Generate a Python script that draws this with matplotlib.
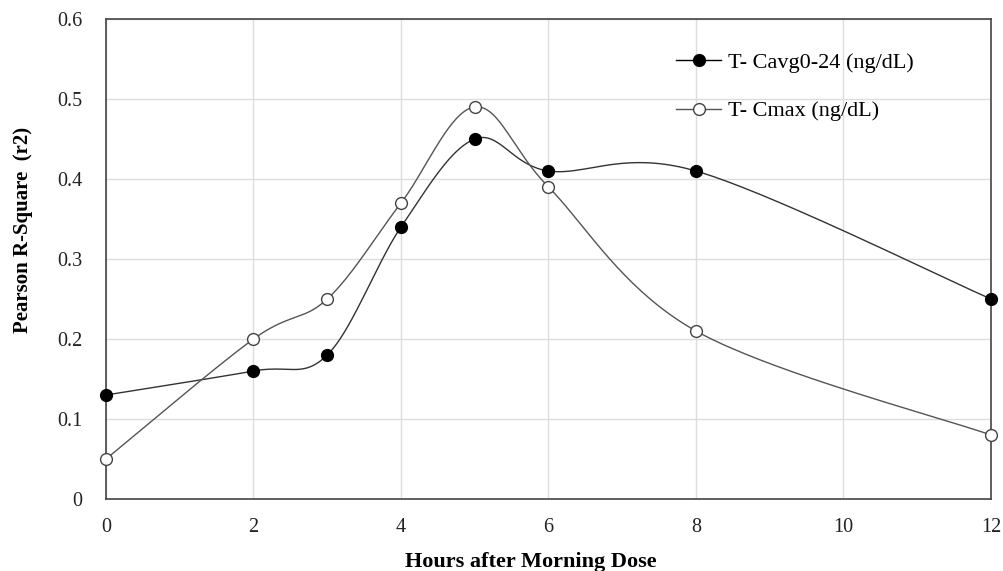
import numpy as np
import matplotlib.pyplot as plt
from matplotlib.lines import Line2D

hours = [0, 2, 3, 4, 5, 6, 8, 12]
cavg = [0.13, 0.16, 0.18, 0.34, 0.45, 0.41, 0.41, 0.25]
cmax = [0.05, 0.20, 0.25, 0.37, 0.49, 0.39, 0.21, 0.08]
series_labels = ["T- Cavg0-24 (ng/dL)", "T- Cmax (ng/dL)"]
x_ticks = [0, 2, 4, 6, 8, 10, 12]
y_ticks = [0, 0.1, 0.2, 0.3, 0.4, 0.5, 0.6]

plt.rcParams['font.family'] = ['Liberation Serif', 'DejaVu Serif']


def smooth_curve(xs, ys, n=40):
    """Bezier smoothing through every point (tangent = neighbour difference / 6)."""
    p = np.column_stack([xs, ys]).astype(float)
    ext = np.vstack([p[0], p, p[-1]])
    out = []
    t = np.linspace(0, 1, n)[:, None]
    for i in range(len(p) - 1):
        p0 = ext[i + 1]
        p3 = ext[i + 2]
        c1 = p0 + (ext[i + 2] - ext[i]) / 6.0
        c2 = p3 - (ext[i + 3] - ext[i + 1]) / 6.0
        seg = ((1 - t) ** 3) * p0 + 3 * ((1 - t) ** 2) * t * c1 + 3 * (1 - t) * t ** 2 * c2 + t ** 3 * p3
        out.append(seg if i == 0 else seg[1:])
    out = np.vstack(out)
    return out[:, 0], out[:, 1]


W, H = 1004, 571
fig = plt.figure(figsize=(W / 100, H / 100), dpi=100)
ax = fig.add_axes([106 / W, 1 - 499 / H, (991 - 106) / W, (499 - 19) / H])

ms = 8.5
sx, sy = smooth_curve(hours, cavg)
ax.plot(sx, sy, color='#333333', lw=1.0, zorder=3, clip_on=False)
ax.plot(hours, cavg, linestyle='none', marker='o', ms=ms, mfc='black', mec='black',
        zorder=4, clip_on=False)

sx, sy = smooth_curve(hours, cmax)
ax.plot(sx, sy, color='#555555', lw=1.0, zorder=3, clip_on=False)
ax.plot(hours, cmax, linestyle='none', marker='o', ms=ms, mfc='white', mec='#444444',
        mew=1.0, zorder=4, clip_on=False)

ax.set_xlim(0, 12)
ax.set_ylim(0, 0.6)
ax.set_xticks(x_ticks)
ax.set_yticks(y_ticks)
ax.set_xticklabels([str(v) for v in x_ticks])
ax.set_yticklabels(['0'] + [f'{v:.1f}' for v in y_ticks[1:]])
ax.tick_params(length=0, labelsize=14.5, colors='#222222')
ax.tick_params(axis='x', pad=14)
ax.tick_params(axis='y', pad=17)
ax.grid(True, color='#dddddd', lw=1.0)
ax.set_axisbelow(True)
for s in ax.spines.values():
    s.set_color('#444444')
    s.set_linewidth(1.2)

fig.text(531 / W, 1 - 562 / H, 'Hours after Morning Dose', fontsize=16, fontweight='bold',
         ha='center', va='center')
fig.text(23 / W, 1 - 230 / H, 'Pearson R-Square  (r2)', fontsize=15, fontweight='bold',
         ha='center', va='center', rotation=90)

handles = [
    Line2D([], [], color='black', lw=1.0, marker='o', ms=ms, mfc='black', mec='black'),
    Line2D([], [], color='#555555', lw=1.0, marker='o', ms=ms, mfc='white', mec='#444444'),
]
ax.legend(handles, series_labels, loc='upper left', bbox_to_anchor=(0.622, 0.972),
          frameon=False, fontsize=16, handlelength=2.0, handletextpad=0.3,
          labelspacing=1.25)

fig.savefig('out.png', dpi=100)
